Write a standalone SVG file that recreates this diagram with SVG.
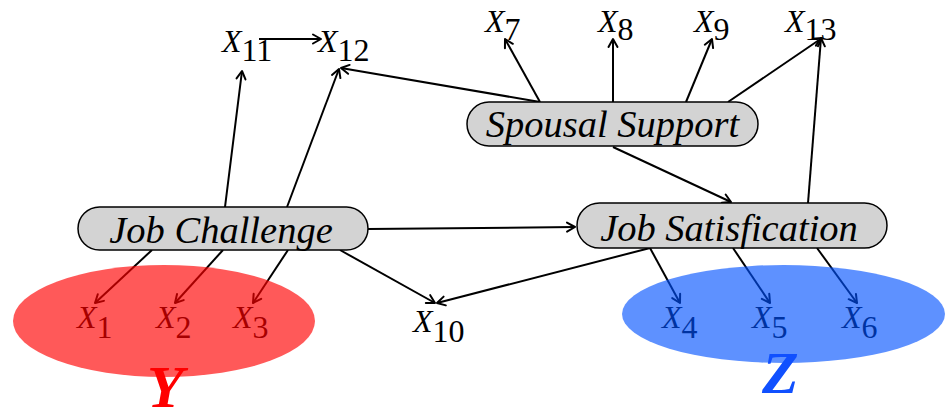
<svg xmlns="http://www.w3.org/2000/svg" width="951" height="419" viewBox="0 0 951 419">
  <style>
    .box { fill: #d3d3d3; stroke: #000; stroke-width: 1.5; }
    .lbl { font-family: "Liberation Serif", "Times New Roman", serif; font-style: italic; font-size: 38.5px; fill: #000; }
    .var { font-family: "Liberation Serif", "Times New Roman", serif; font-size: 32px; fill: #000; }
    .var .x { font-style: italic; }
    .edge { stroke: #000; stroke-width: 2; fill: none; marker-end: url(#arrow); }
    .set { font-family: "Liberation Serif", "Times New Roman", serif; font-weight: bold; font-style: italic; font-size: 60px; }
  </style>
  <defs>
    <marker id="arrow" markerUnits="userSpaceOnUse" markerWidth="14" markerHeight="14" viewBox="-10 -7 12 14" refX="0" refY="0" orient="auto">
      <path d="M -8 -4.5 L 0 0 L -8 4.5" fill="none" stroke="#000" stroke-width="2" stroke-linecap="round" stroke-linejoin="round"/>
    </marker>
  </defs>
  <rect width="951" height="419" fill="#fff"/>

  <!-- connectors -->
  <g id="edges">
    <line class="edge" x1="259" y1="39" x2="321" y2="39"/>
    <line class="edge" x1="225" y1="207" x2="242" y2="71"/>
    <line class="edge" x1="287" y1="207" x2="339" y2="69"/>
    <line class="edge" x1="540" y1="102" x2="341" y2="68"/>
    <line class="edge" x1="540" y1="102" x2="505" y2="39"/>
    <line class="edge" x1="613" y1="102" x2="613" y2="39"/>
    <line class="edge" x1="686" y1="102" x2="712" y2="39"/>
    <line class="edge" x1="728" y1="102" x2="822" y2="38"/>
    <line class="edge" x1="808" y1="203" x2="821" y2="38"/>
    <line class="edge" x1="613" y1="147" x2="731" y2="202"/>
    <line class="edge" x1="368" y1="229" x2="575" y2="227"/>
    <line class="edge" x1="340" y1="250" x2="435" y2="303"/>
    <line class="edge" x1="650" y1="248" x2="437" y2="303"/>
    <line class="edge" x1="152" y1="250" x2="95" y2="303"/>
    <line class="edge" x1="223" y1="250" x2="175" y2="303"/>
    <line class="edge" x1="288" y1="250" x2="253" y2="303"/>
    <line class="edge" x1="650" y1="248" x2="680" y2="303"/>
    <line class="edge" x1="733" y1="248" x2="770" y2="303"/>
    <line class="edge" x1="817" y1="248" x2="857" y2="303"/>
  </g>

  <!-- latent factors -->
  <g id="spousal-support">
    <rect class="box" x="467" y="102" width="291" height="44" rx="22"/>
    <text class="lbl" x="612.5" y="137" text-anchor="middle">Spousal Support</text>
  </g>
  <g id="job-challenge">
    <rect class="box" x="78" y="207" width="290" height="43" rx="21.5"/>
    <text class="lbl" x="221" y="243" text-anchor="middle">Job Challenge</text>
  </g>
  <g id="job-satisfication">
    <rect class="box" x="577" y="203" width="310" height="45" rx="22.5"/>
    <text class="lbl" x="729" y="241" text-anchor="middle">Job Satisfication</text>
  </g>

  <!-- indicators -->
  <g id="x1"><text class="var" x="77" y="328"><tspan class="x">X</tspan><tspan dy="10">1</tspan></text></g>
  <g id="x2"><text class="var" x="156" y="328"><tspan class="x">X</tspan><tspan dy="10">2</tspan></text></g>
  <g id="x3"><text class="var" x="233" y="328"><tspan class="x">X</tspan><tspan dy="10">3</tspan></text></g>
  <g id="x4"><text class="var" x="662" y="328"><tspan class="x">X</tspan><tspan dy="10">4</tspan></text></g>
  <g id="x5"><text class="var" x="752" y="328"><tspan class="x">X</tspan><tspan dy="10">5</tspan></text></g>
  <g id="x6"><text class="var" x="842" y="328"><tspan class="x">X</tspan><tspan dy="10">6</tspan></text></g>
  <g id="x7"><text class="var" x="485" y="32"><tspan class="x">X</tspan><tspan dy="8">7</tspan></text></g>
  <g id="x8"><text class="var" x="598" y="32"><tspan class="x">X</tspan><tspan dy="8">8</tspan></text></g>
  <g id="x9"><text class="var" x="694" y="32"><tspan class="x">X</tspan><tspan dy="8">9</tspan></text></g>
  <g id="x10"><text class="var" x="413" y="332"><tspan class="x">X</tspan><tspan dy="10">10</tspan></text></g>
  <g id="x11"><text class="var" x="222" y="52"><tspan class="x">X</tspan><tspan dy="9">11</tspan></text></g>
  <g id="x12"><text class="var" x="318" y="52"><tspan class="x">X</tspan><tspan dy="9">12</tspan></text></g>
  <g id="x13"><text class="var" x="785" y="32"><tspan class="x">X</tspan><tspan dy="8">13</tspan></text></g>

  <!-- translucent indicator sets -->
  <g id="set-y">
    <ellipse cx="164" cy="321" rx="151" ry="56" fill="#ff0000" fill-opacity="0.65"/>
    <text class="set" x="147" y="407" fill="#ff0000">Y</text>
  </g>
  <g id="set-z">
    <ellipse cx="783.5" cy="314" rx="161.5" ry="49" fill="#0050ff" fill-opacity="0.63"/>
    <text class="set" x="762" y="393" fill="#1050ff">Z</text>
  </g>
</svg>
